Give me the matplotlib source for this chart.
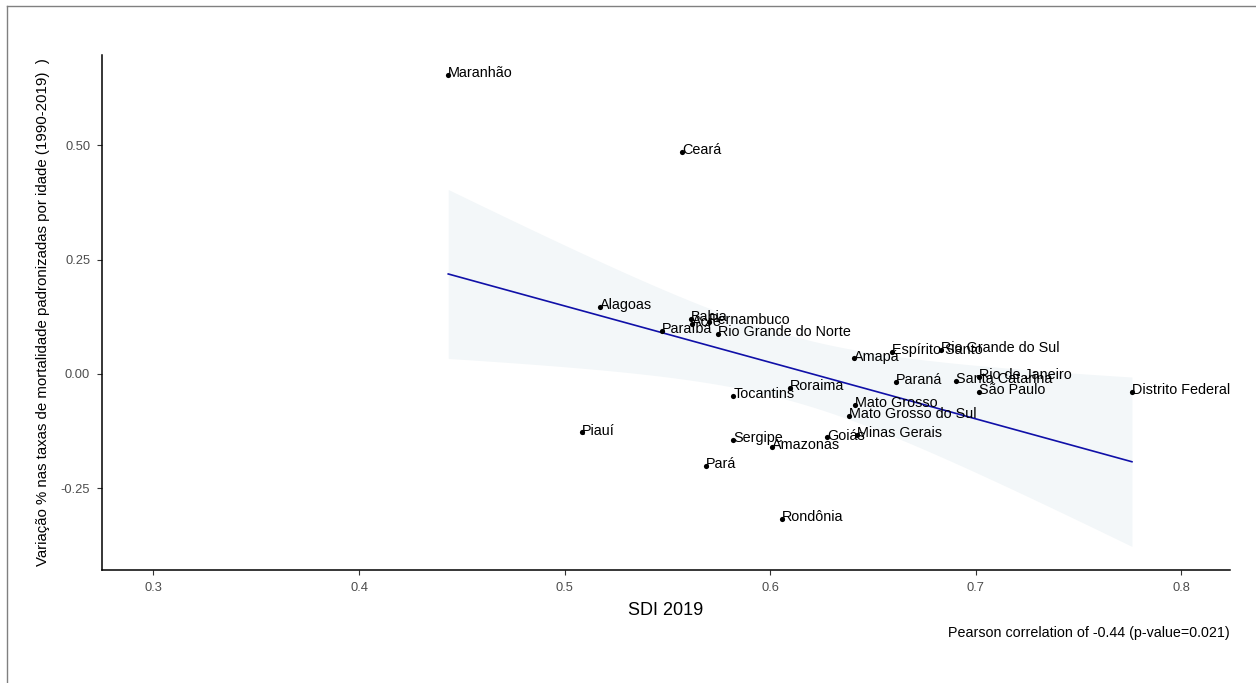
import numpy as np
import matplotlib
matplotlib.use("Agg")
import matplotlib.pyplot as plt
from matplotlib.lines import Line2D

plt.rcParams['font.family'] = ['Liberation Sans', 'DejaVu Sans']

states = ["Maranhão", "Ceará", "Alagoas", "Bahia", "Acre", "Pernambuco", "Paraíba",
          "Rio Grande do Norte", "Amapá", "Espírito Santo", "Rio Grande do Sul", "Paraná",
          "Santa Catarina", "Rio de Janeiro", "São Paulo", "Distrito Federal", "Tocantins",
          "Roraima", "Mato Grosso", "Mato Grosso do Sul", "Piauí", "Sergipe", "Amazonas",
          "Goiás", "Minas Gerais", "Pará", "Rondônia"]
sdi = [0.4434, 0.5572, 0.5173, 0.5615, 0.5620, 0.5703, 0.5474,
       0.5747, 0.6405, 0.6594, 0.6832, 0.6611,
       0.6904, 0.7015, 0.7015, 0.7759, 0.5821,
       0.6094, 0.6414, 0.6381, 0.5083, 0.5821, 0.6010,
       0.6275, 0.6424, 0.5686, 0.6055]
variation = [0.654, 0.486, 0.147, 0.120, 0.109, 0.114, 0.094,
             0.0875, 0.034, 0.049, 0.0525, -0.0168,
             -0.0153, -0.006, -0.0387, -0.040, -0.0474,
             -0.031, -0.068, -0.091, -0.128, -0.144, -0.160,
             -0.139, -0.133, -0.201, -0.318]

xticks = [0.3, 0.4, 0.5, 0.6, 0.7, 0.8]
yticks = [-0.25, 0.0, 0.25, 0.50]
ytick_labels = ["-0.25", "0.00", "0.25", "0.50"]
xlabel = "SDI 2019"
ylabel = "Variação % nas taxas de mortalidade padronizadas por idade (1990-2019)  )"
caption = "Pearson correlation of -0.44 (p-value=0.021)"

x = np.array(sdi)
y = np.array(variation)

fig = plt.figure(figsize=(12.56, 6.83), dpi=100)
ax = fig.add_axes([0.0812, 0.1654, 0.9793 - 0.0812, 0.9195 - 0.1654])

# linear fit with 95% CI (as geom_smooth(method="lm"))
n = len(x)
b1, b0 = np.polyfit(x, y, 1)
xs = np.linspace(x.min(), x.max(), 100)
ys = b0 + b1 * xs
resid = y - (b0 + b1 * x)
s = np.sqrt(np.sum(resid ** 2) / (n - 2))
sxx = np.sum((x - x.mean()) ** 2)
se = s * np.sqrt(1.0 / n + (xs - x.mean()) ** 2 / sxx)
tval = 2.0595  # t(0.975, df=25)
ax.fill_between(xs, ys - tval * se, ys + tval * se, color="#f3f7f9", lw=0, zorder=1)
ax.plot(xs, ys, color="#1010a8", lw=1.2, zorder=2)

ax.scatter(x, y, s=14, color="black", zorder=3, linewidths=0)
for name, xi, yi in zip(states, x, y):
    ax.annotate(name, (xi, yi), xytext=(0, -1.5), textcoords="offset points",
                ha="left", va="baseline", fontsize=10.4, color="black", zorder=4)

ax.set_xlim(0.275, 0.8236)
ax.set_ylim(-0.429, 0.698)
ax.set_xticks(xticks)
ax.set_xticklabels([f"{t:.1f}" for t in xticks])
ax.set_yticks(yticks)
ax.set_yticklabels(ytick_labels)
ax.tick_params(axis="both", length=3.5, width=0.8, color="#333333",
               labelsize=9.3, labelcolor="#4d4d4d", pad=5)
for side in ["top", "right"]:
    ax.spines[side].set_visible(False)
for side in ["left", "bottom"]:
    ax.spines[side].set_linewidth(1.1)
    ax.spines[side].set_color("black")

ax.set_xlabel(xlabel, fontsize=13, labelpad=6)
ax.set_ylabel(ylabel, fontsize=10.8, labelpad=8)
fig.text(0.9793, 1 - 633 / 683, caption, ha="right", va="center", fontsize=10.3)

# outer frame (left and top edges)
fig.add_artist(Line2D([7 / 1256, 7 / 1256], [0, 1 - 6 / 683], transform=fig.transFigure,
                      color="#808080", lw=1))
fig.add_artist(Line2D([7 / 1256, 1], [1 - 6 / 683, 1 - 6 / 683], transform=fig.transFigure,
                      color="#808080", lw=1))

fig.savefig("out.png", dpi=100)
